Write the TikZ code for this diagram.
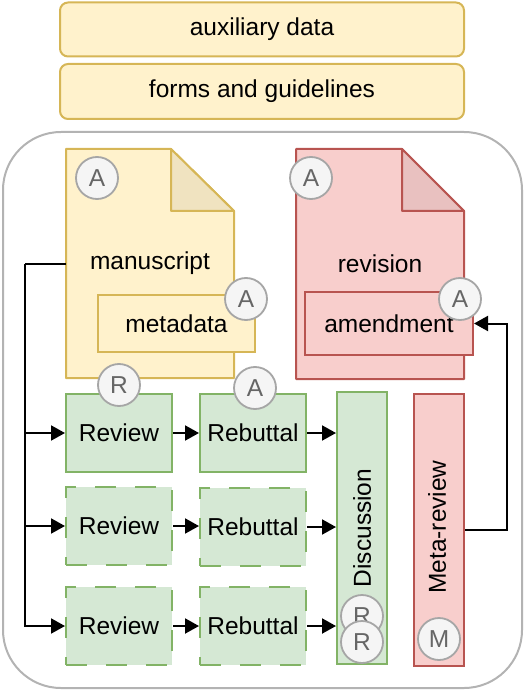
\documentclass[tikz,border=0pt]{standalone}
\usepackage{fontspec}
\setmainfont{Liberation Sans}
\usepackage{xcolor}
\usetikzlibrary{arrows.meta}

\definecolor{yfill}{HTML}{FFF2CC}
\definecolor{ydraw}{HTML}{D6B656}
\definecolor{yfold}{HTML}{F0E3C0}
\definecolor{gfill}{HTML}{D5E8D4}
\definecolor{gdraw}{HTML}{82B366}
\definecolor{rfill}{HTML}{F8CECC}
\definecolor{rdraw}{HTML}{B85450}
\definecolor{rfold}{HTML}{E9C1C0}
\definecolor{bfill}{HTML}{F5F5F5}
\definecolor{bdraw}{HTML}{A6A6A6}
\definecolor{btext}{HTML}{666666}
\definecolor{frame}{HTML}{B3B3B3}

\tikzset{
  lbl/.style={font=\fontsize{24.5}{29}\selectfont, inner sep=0pt},
  yellowbox/.style={lbl, draw=ydraw, fill=yfill, line width=2pt},
  greenbox/.style={lbl, draw=gdraw, fill=gfill, line width=2pt, minimum width=106pt, minimum height=78pt},
  dashbox/.style={greenbox, dash pattern={on 21pt off 19pt}},
  redbox/.style={lbl, draw=rdraw, fill=rfill, line width=2pt},
  badge/.style={lbl, circle, draw=bdraw, fill=bfill, line width=1.8pt, minimum size=42pt, text=btext},
  arr/.style={line width=2pt, -{Triangle[length=14pt,width=15pt]}},
}

\begin{document}
\begin{tikzpicture}[x=1pt,y=1pt,yscale=-1,xscale=1]
        \useasboundingbox (0,0) rectangle (525,692);

        %Shape: Rounded Rect (outer frame)
        \draw [color=frame, line width=2pt, rounded corners=58pt] (3,132) rectangle (522,688);

        % Top boxes
        \node [yellowbox, rounded corners=8pt, minimum width=404pt, minimum height=54pt] (aux) at (262,29.5) {auxiliary data};
        \node [yellowbox, rounded corners=8pt, minimum width=404pt, minimum height=55pt] (forms) at (262,91.5) {forms and guidelines};

        %Shape: Document (manuscript)
        \draw [draw=ydraw, fill=yfill, line width=2pt, line join=round] (66,149) -- (171,149) -- (234,211) -- (234,378) -- (66,378) -- cycle ;
        \draw [draw=ydraw, fill=yfold, line width=2pt, line join=round] (171,149) -- (234,211) -- (171,211) -- cycle ;
        \node [lbl, minimum width=168pt, minimum height=229pt] (ms) at (150,263.5) {manuscript};
        \node [yellowbox, minimum width=157pt, minimum height=57pt] (meta) at (176.5,323.5) {metadata};

        %Shape: Document (revision)
        \draw [draw=rdraw, fill=rfill, line width=2pt, line join=round] (296,149) -- (402,149) -- (464,211) -- (464,379) -- (296,379) -- cycle ;
        \draw [draw=rdraw, fill=rfold, line width=2pt, line join=round] (402,149) -- (464,211) -- (402,211) -- cycle ;
        \node [lbl, minimum width=168pt, minimum height=230pt] (rev) at (380,264) {revision};
        \node [redbox, minimum width=168pt, minimum height=63pt] (amend) at (389,323.5) {amendment};

        % Reviews and rebuttals
        \node [greenbox] (review1) at (119,433) {Review};
        \node [dashbox] (review2) at (119,526) {Review};
        \node [dashbox] (review3) at (119,626) {Review};
        \node [greenbox] (rebuttal1) at (253,433) {Rebuttal};
        \node [dashbox] (rebuttal2) at (253,527) {Rebuttal};
        \node [dashbox] (rebuttal3) at (253,626) {Rebuttal};

        % Discussion and meta-review
        \node [greenbox, minimum width=50pt, minimum height=272pt] (disc) at (362,528) {};
        \node [lbl, rotate=90] at (disc.center) {Discussion};
        \node [redbox, minimum width=50pt, minimum height=272pt] (metarev) at (439,530) {};
        \node [lbl, rotate=90] at (437,527) {Meta-review};

        % Connectors
        \coordinate (bus) at (25,263.5);
        \draw [line width=2pt] (ms.west) -- (bus);
        \draw [arr] (bus) |- (review1.west);
        \draw [arr] (bus) |- (review2.west);
        \draw [arr] (bus) |- (review3.west);
        \foreach \i in {1,2,3} {
          \draw [arr] (review\i.east) -- (review\i.east -| rebuttal\i.west);
          \draw [arr] (rebuttal\i.east) -- (rebuttal\i.east -| disc.west);
        }
        \draw [arr] (metarev.east) -- ++(42,0) |- (amend.east);

        % Badges
        \node [badge] (bms) at (97,178) {A};
        \node [badge] (bmeta) at (246,299) {A};
        \node [badge] (brev) at (311,178) {A};
        \node [badge] (bamend) at (460,299) {A};
        \node [badge] (breview) at (119,385) {R};
        \node [badge] (brebut) at (255,388) {A};
        \node [badge] (bdisc1) at (362,616) {R};
        \node [badge] (bdisc2) at (362,642) {R};
        \node [badge] (bmetarev) at (439,639) {M};

\end{tikzpicture}
\end{document}
